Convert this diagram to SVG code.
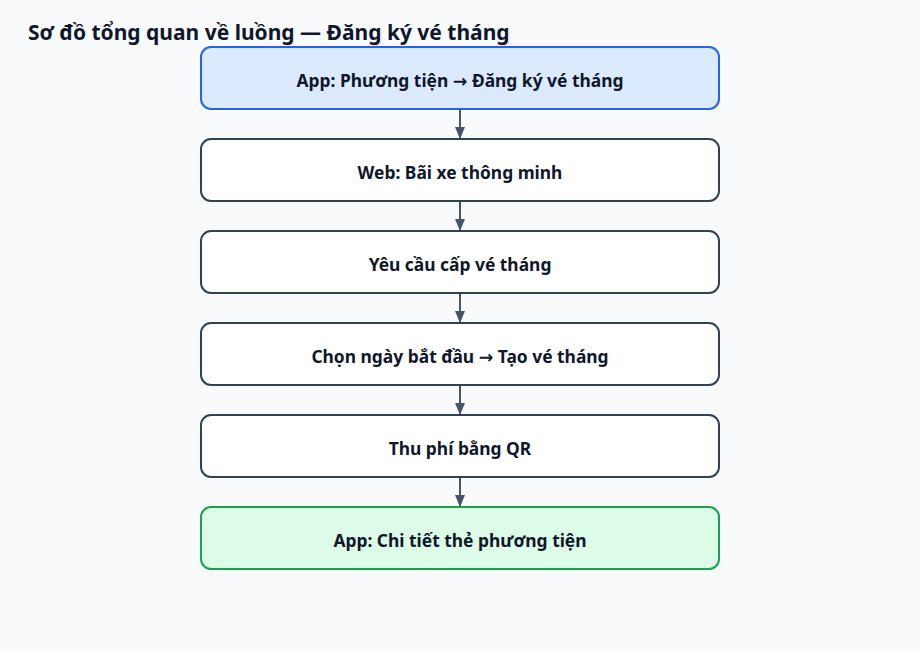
<svg xmlns="http://www.w3.org/2000/svg" width="920" height="652" viewBox="0 0 920 652">
<style>
text{font-family:"Noto Sans","Open Sans","DejaVu Sans",sans-serif;font-weight:700;fill:#0f172a}
.title{font-size:21px}
.lbl{font-size:17.4px;text-anchor:middle}
.box{fill:#ffffff;stroke:#334155;stroke-width:2}
.start{fill:#dbeafe;stroke:#2563eb;stroke-width:2}
.end{fill:#dcfce7;stroke:#16a34a;stroke-width:2}
.edge{stroke:#475569;stroke-width:2;fill:none}
</style>
<defs>
<marker id="ah" viewBox="0 0 12 10" refX="12" refY="5" markerWidth="12" markerHeight="10" markerUnits="userSpaceOnUse" orient="auto">
<path d="M0,0 L12,5 L0,10 Z" fill="#475569"/>
</marker>
</defs>
<rect width="920" height="652" fill="#f8fafc"/>
<text class="title" x="28" y="40">Sơ đồ tổng quan về luồng — Đăng ký vé tháng</text>
<g id="connectors">
<line class="edge" x1="460" y1="109" x2="460" y2="139" marker-end="url(#ah)"/>
<line class="edge" x1="460" y1="201" x2="460" y2="231" marker-end="url(#ah)"/>
<line class="edge" x1="460" y1="293" x2="460" y2="323" marker-end="url(#ah)"/>
<line class="edge" x1="460" y1="385" x2="460" y2="415" marker-end="url(#ah)"/>
<line class="edge" x1="460" y1="477" x2="460" y2="507" marker-end="url(#ah)"/>
</g>
<g id="n1"><rect class="start" x="201" y="47" width="518" height="62" rx="10"/><text class="lbl" x="460" y="87">App: Phương tiện → Đăng ký vé tháng</text></g>
<g id="n2"><rect class="box" x="201" y="139" width="518" height="62" rx="10"/><text class="lbl" x="460" y="179">Web: Bãi xe thông minh</text></g>
<g id="n3"><rect class="box" x="201" y="231" width="518" height="62" rx="10"/><text class="lbl" x="460" y="271">Yêu cầu cấp vé tháng</text></g>
<g id="n4"><rect class="box" x="201" y="323" width="518" height="62" rx="10"/><text class="lbl" x="460" y="363">Chọn ngày bắt đầu → Tạo vé tháng</text></g>
<g id="n5"><rect class="box" x="201" y="415" width="518" height="62" rx="10"/><text class="lbl" x="460" y="455">Thu phí bằng QR</text></g>
<g id="n6"><rect class="end" x="201" y="507" width="518" height="62" rx="10"/><text class="lbl" x="460" y="547">App: Chi tiết thẻ phương tiện</text></g>
</svg>
